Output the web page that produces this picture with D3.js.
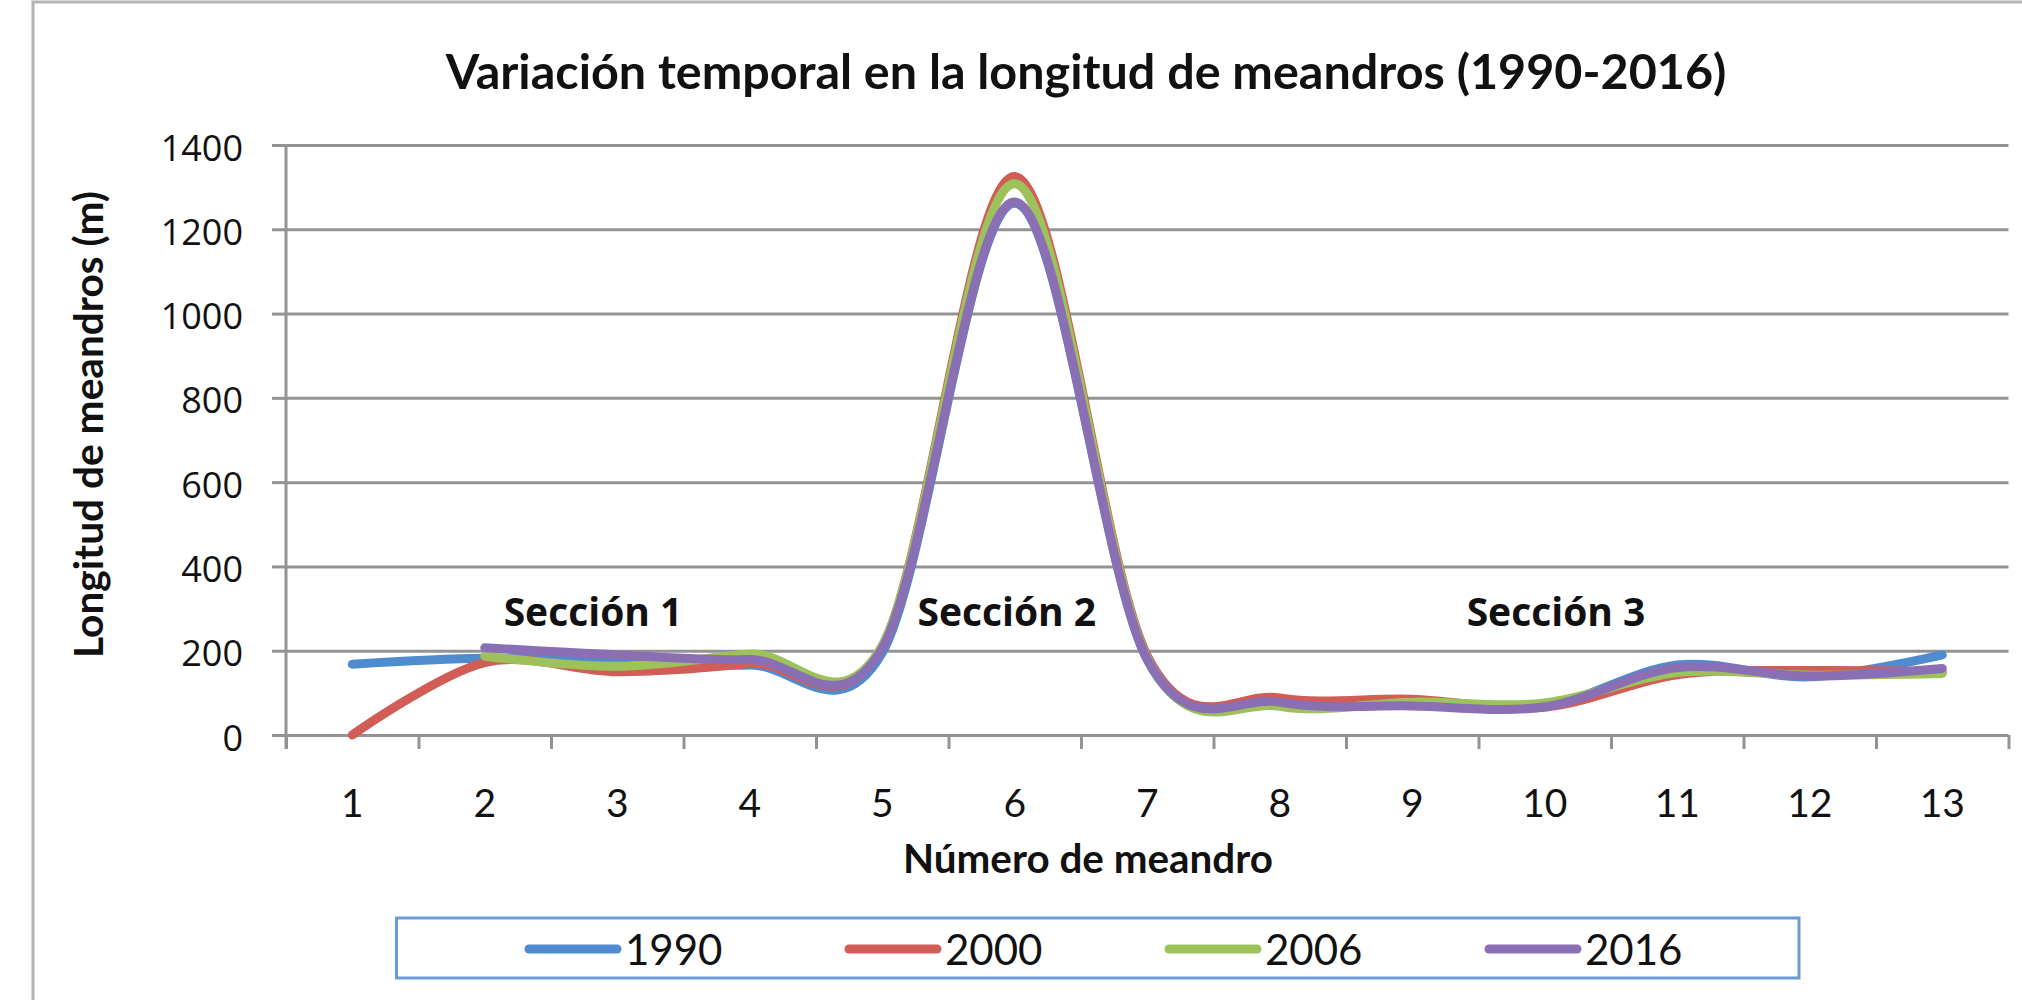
<!DOCTYPE html>
<html>
<head>
<meta charset="utf-8">
<script src="https://cdn.jsdelivr.net/npm/d3@7"></script>
<style>
  body { margin: 0; background: #fff; }
  svg { display: block; }
</style>
</head>
<body>
<script>
// meander number on the x axis
const categories = ['1', '2', '3', '4', '5', '6', '7', '8', '9', '10', '11', '12', '13']
const years = ['1990', '2000', '2006', '2016']

// meander length (m)
const len1990 = [168, 182, 175, 166, 195, 1262, 178, 75, 72, 68, 166, 138, 190]
const len2000 = [0, 172, 150, 170, 210, 1325, 188, 88, 85, 66, 143, 153, 150]
const len2006 = [null, 187, 163, 192, 212, 1308, 183, 68, 78, 76, 148, 142, 146]
const len2016 = [null, 207, 190, 179, 205, 1265, 180, 78, 69, 67, 160, 140, 158]

const yTicks = [0, 200, 400, 600, 800, 1000, 1200, 1400]
const sections = ['Sección 1', 'Sección 2', 'Sección 3']

const series = [len1990, len2000, len2006, len2016]

const W = 2022, H = 1000
const plotL = 286, plotR = 2008.5, plotT = 145, plotB = 735
const colors = ['#4f8ccf', '#d25d56', '#9dc25b', '#8a6fb4']

const svg = d3.select('body').append('svg')
  .attr('width', W).attr('height', H)

// outer chart frame
svg.append('rect')
  .attr('x', 33).attr('y', 2).attr('width', W + 40).attr('height', H + 40)
  .attr('fill', '#fff').attr('stroke', '#b4b4b4').attr('stroke-width', 3)

const x = d3.scaleBand().domain(categories).range([plotL, plotR])
const xEdge = d3.scaleLinear().domain([0, categories.length]).range([plotL, plotR])
const y = d3.scaleLinear().domain([0, 1400]).range([plotB, plotT])
const color = d3.scaleOrdinal().domain(years).range(colors)

function fitWidth(sel, w) {
  const fs = parseFloat(sel.attr('font-size'))
  const l = sel.node().getComputedTextLength()
  sel.attr('font-size', fs * w / l)
}

// gridlines
svg.append('g')
  .attr('transform', `translate(${plotL},0)`)
  .call(d3.axisLeft(y).tickValues(yTicks).tickSize(-(plotR - plotL)).tickFormat(''))
  .call(g => g.select('.domain').remove())
  .call(g => g.selectAll('line').attr('stroke', '#939393').attr('stroke-width', 3))

// y axis
svg.append('g')
  .attr('transform', `translate(${plotL},0)`)
  .call(d3.axisLeft(y).tickValues(yTicks).tickFormat(d3.format('d'))
    .tickSize(14).tickPadding(29).tickSizeOuter(0))
  .call(g => g.select('.domain').attr('d', `M0,${plotT}V${plotB + 14}`)
    .attr('stroke', '#939393').attr('stroke-width', 3))
  .call(g => g.selectAll('line').attr('stroke', '#939393').attr('stroke-width', 3))
  .call(g => g.selectAll('text')
    .attr('font-family', 'Open Sans').attr('font-size', 36).attr('fill', '#111')
    .attr('dy', '0.42em'))

// x axis: ticks between categories
svg.append('g')
  .attr('transform', `translate(0,${plotB})`)
  .call(d3.axisBottom(xEdge).ticks(categories.length).tickSize(14).tickFormat('').tickSizeOuter(0))
  .call(g => g.select('.domain').remove())
  .call(g => g.selectAll('line').attr('stroke', '#939393').attr('stroke-width', 3))

// x labels at category centres
svg.append('g')
  .attr('transform', `translate(0,${plotB})`)
  .call(d3.axisBottom(x).tickSize(0).tickPadding(54))
  .call(g => g.select('.domain').remove())
  .call(g => g.selectAll('text')
    .attr('font-family', 'Lato').attr('font-size', 39).attr('fill', '#111'))

// series
const line = d3.line()
  .defined(d => d != null)
  .x((d, i) => x(categories[i]) + x.bandwidth() / 2)
  .y(d => y(d))
  .curve(d3.curveCatmullRom.alpha(0))

svg.append('g').selectAll('path')
  .data(series)
  .join('path')
  .attr('d', line)
  .attr('fill', 'none')
  .attr('stroke', (d, i) => color(years[i]))
  .attr('stroke-width', 9)
  .attr('stroke-linecap', 'round')
  .attr('stroke-linejoin', 'round')

// section labels
const sectionAt = [2.317, 5.44, 9.585]
svg.append('g').selectAll('text')
  .data(sections)
  .join('text')
  .attr('x', (d, i) => xEdge(sectionAt[i]))
  .attr('y', 626)
  .attr('text-anchor', 'middle')
  .attr('font-family', 'Open Sans').attr('font-weight', 700).attr('font-size', 39)
  .attr('fill', '#111')
  .text(d => d)

// title
svg.append('text')
  .attr('x', 1086).attr('y', 89)
  .attr('text-anchor', 'middle')
  .attr('font-family', 'Lato').attr('font-weight', 700).attr('font-size', 43)
  .attr('fill', '#111')
  .text('Variación temporal en la longitud de meandros (1990-2016)')
  .call(fitWidth, 1281)

// axis titles
svg.append('text')
  .attr('transform', `translate(103,${(191 + 658) / 2}) rotate(-90)`)
  .attr('text-anchor', 'middle')
  .attr('font-family', 'Lato').attr('font-weight', 700).attr('font-size', 37)
  .attr('fill', '#111')
  .text('Longitud de meandros (m)')
  .call(fitWidth, 467)

svg.append('text')
  .attr('x', 1088).attr('y', 873)
  .attr('text-anchor', 'middle')
  .attr('font-family', 'Lato').attr('font-weight', 700).attr('font-size', 39)
  .attr('fill', '#111')
  .text('Número de meandro')
  .call(fitWidth, 370)

// legend
const legend = svg.append('g')
legend.append('rect')
  .attr('x', 396.5).attr('y', 918).attr('width', 1402.5).attr('height', 60)
  .attr('fill', '#fff').attr('stroke', '#6b9bd6').attr('stroke-width', 3)

const item = legend.selectAll('g')
  .data(years)
  .join('g')
  .attr('transform', (d, i) => `translate(${529 + i * 320},949)`)
item.append('line')
  .attr('x1', 0).attr('x2', 88)
  .attr('stroke', d => color(d)).attr('stroke-width', 9).attr('stroke-linecap', 'round')
item.append('text')
  .attr('x', 96).attr('y', 16)
  .attr('font-family', 'Lato').attr('font-size', 42).attr('fill', '#111')
  .text(d => d)
</script>
</body>
</html>
